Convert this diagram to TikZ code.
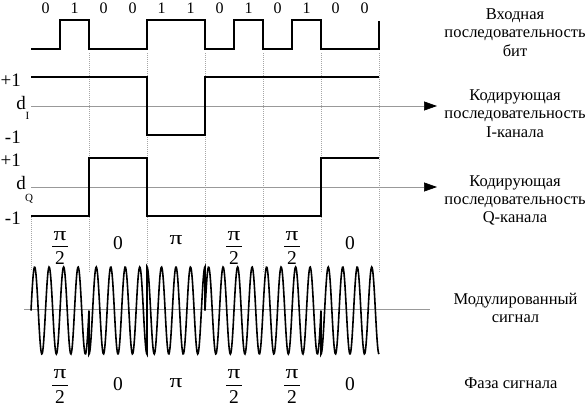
\documentclass[tikz,border=0pt]{standalone}
\usepackage{fontspec}
\setmainfont{Liberation Serif}
\usetikzlibrary{arrows.meta}
\newcommand\mypi{\scalebox{1.3}[1]{π}}
\begin{document}
\begin{tikzpicture}[x=1pt,y=-1pt,
  txt/.style={font=\fontsize{16}{18}\selectfont, inner sep=0pt},
  lbl/.style={font=\fontsize{16.5}{18.2}\selectfont, inner sep=0pt, align=center},
  big/.style={font=\fontsize{19}{21}\selectfont, inner sep=0pt},
  ph/.style={font=\fontsize{19.5}{22}\selectfont, inner sep=0pt},
  subl/.style={font=\fontsize{11}{12}\selectfont, inner sep=0pt},
  wave/.style={line width=1.9pt, line join=miter},
  sig/.style={line width=1.6pt},
  axisl/.style={gray!80, line width=0.7pt},
  gridl/.style={gray!70, line width=0.6pt, dash pattern=on 0.7pt off 1.3pt},
  tipa/.style={-{Triangle[length=13pt,width=9pt,black]}},
  fbar/.style={line width=0.7pt}
]
\useasboundingbox (0,0) rectangle (585,412);

% vertical dotted grid
\foreach \gx [count=\gi] in {89,147,205,263,321,379}{
  \coordinate (gt\gi) at (\gx,53);
  \coordinate (gb\gi) at (\gx,272);
  \draw[gridl] (gt\gi) -- (gb\gi);
}
\coordinate (g0t) at (31,217);
\coordinate (g0b) at (31,271);
\draw[gridl] (g0t) -- (g0b);

% axes
\coordinate (dIs) at (31,106);  \coordinate (dIe) at (437,106);
\coordinate (dQs) at (31,187);  \coordinate (dQe) at (437,187);
\coordinate (sAs) at (24,309);  \coordinate (sAe) at (430,309);
\draw[axisl,tipa] (dIs) -- (dIe);
\draw[axisl,tipa] (dQs) -- (dQe);
\draw[axisl] (sAs) -- (sAe);

% bit labels
\foreach \b [count=\i from 0] in {0,1,0,0,1,1,0,1,0,1,0,0}{
  \node[txt] (bit\i) at ({45.5+29*\i},8.5) {\b};
}

% input bit waveform
\draw[wave] (31,49) -- (60,49) -- (60,20) -- (89,20) -- (89,49) -- (147,49)
  -- (147,20) -- (205,20) -- (205,49) -- (234,49) -- (234,20) -- (263,20)
  -- (263,49) -- (292,49) -- (292,20) -- (321,20) -- (321,49) -- (379,49) -- (379,21);

% I channel
\draw[wave] (31,77) -- (147,77) -- (147,135) -- (205,135) -- (205,77) -- (379,77);
% Q channel
\draw[wave] (31,216) -- (89,216) -- (89,158) -- (147,158) -- (147,216) -- (321,216) -- (321,158) -- (379,158);

% left labels
\node[big,anchor=base east] (pI) at (21,86) {+1};
\node[big,anchor=base east] (dI) at (26,109) {d};
\node[subl,anchor=base west] (dIsub) at (25.5,119) {I};
\node[big,anchor=base east] (mI) at (21,143) {-1};
\node[big,anchor=base east] (pQ) at (21,166) {+1};
\node[big,anchor=base east] (dQ) at (26,189) {d};
\node[subl,anchor=base west] (dQsub) at (25,201) {Q};
\node[big,anchor=base east] (mQ) at (21,224) {-1};

% right labels
\node[lbl] (lIn) at (515,32.5) {Входная\\последовательность\\бит};
\node[lbl] (lI) at (515,113.5) {Кодирующая\\последовательность\\I-канала};
\node[lbl] (lQ) at (515,200.5) {Кодирующая\\последовательность\\Q-канала};
\node[lbl] (lM) at (515.5,308) {Модулированный\\сигнал};
\node[lbl] (lP) at (511,383) {Фаза сигнала};

% phase labels, row 1
\foreach \px [count=\k] in {60,234,292}{
  \node[ph] (fa\k n) at (\px,236) {\mypi};
  \node[ph] (fa\k d) at (\px,258) {2};
  \draw[fbar] (\px-8,246) -- (\px+8,246);
}
\node[ph] (za1) at (118,243) {0};
\node[ph] (za2) at (350,243) {0};
\node[ph] (pa1) at (176,240) {\mypi};

% phase labels, row 2
\foreach \px [count=\k] in {60,234,292}{
  \node[ph] (fb\k n) at (\px,374) {\mypi};
  \node[ph] (fb\k d) at (\px,397) {2};
  \draw[fbar] (\px-8,385) -- (\px+8,385);
}
\node[ph] (zb1) at (118,384) {0};
\node[ph] (zb2) at (350,384) {0};
\node[ph] (pb1) at (176,383) {\mypi};

% modulated signal
\draw[sig]
  plot[domain=0:58,samples=120] ({31+\x},{310.5-43.5*sin(24.827586*\x)})
  -- plot[domain=0:58,samples=120] ({89+\x},{310.5-43.5*sin(24.827586*\x-90)})
  -- plot[domain=0:58,samples=120] ({147+\x},{310.5-43.5*sin(24.827586*\x+90)})
  -- plot[domain=0:58,samples=120] ({205+\x},{310.5-43.5*sin(24.827586*\x)})
  -- plot[domain=0:58,samples=120] ({263+\x},{310.5-43.5*sin(24.827586*\x)})
  -- plot[domain=0:58,samples=120] ({321+\x},{310.5-43.5*sin(24.827586*\x-90)});
\end{tikzpicture}
\end{document}
